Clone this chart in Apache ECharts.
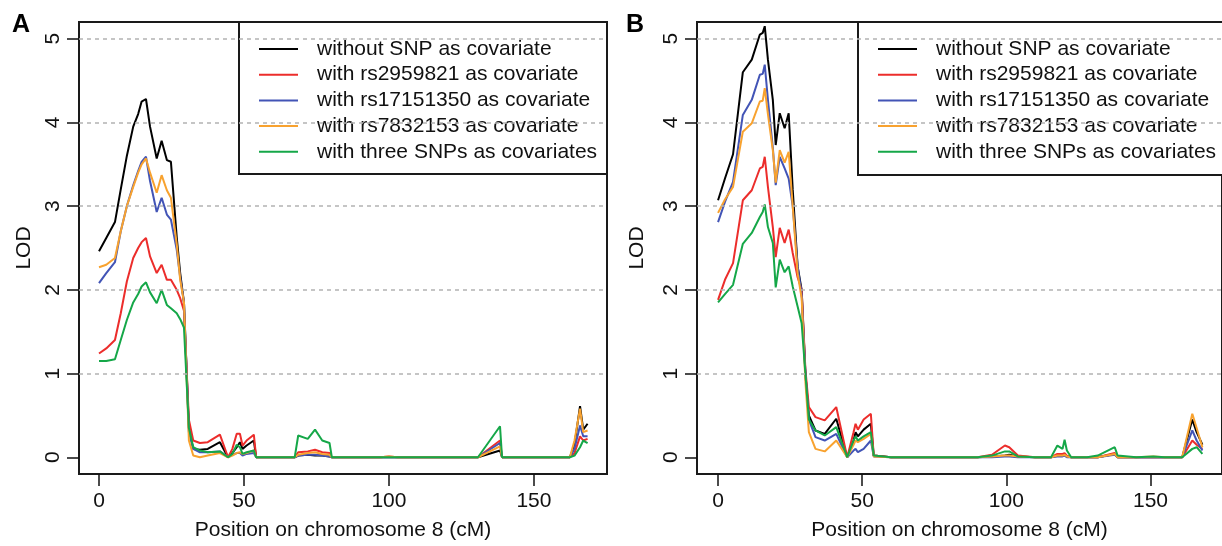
<!DOCTYPE html>
<html>
<head>
<meta charset="utf-8">
<script src="https://cdn.jsdelivr.net/npm/echarts@6/dist/echarts.min.js"></script>
<style>
html,body{margin:0;padding:0;background:#fff;}
#chart{width:1222px;height:546px;}
</style>
</head>
<body>
<div id="chart"></div>
<script>
// ---- data (positions in cM, LOD values) ----
const seriesNames = ['without SNP as covariate', 'with rs2959821 as covariate', 'with rs17151350 as covariate', 'with rs7832153 as covariate', 'with three SNPs as covariates'];
const xTicks = [0, 50, 100, 150];
const yTicks = [0, 1, 2, 3, 4, 5];
const gridVals = [1, 2, 3, 4, 5];

// Panel A
const posA = [0, 2.5, 5.5, 7.5, 9.6, 11.8, 13.5, 14.7, 16.2, 17.6, 19.9, 21.6, 23.4, 24.8, 26.8, 28, 29.3, 31, 32.5, 34.8, 37.5, 41.7, 44.5, 46, 47.5, 48.6, 49.5, 50.9, 53.4, 54.2, 60, 67.5, 68.7, 72, 74.5, 77, 79.5, 80.3, 90, 97, 100, 103, 110, 125, 130.7, 138.3, 139, 150, 162.4, 164, 165.9, 167, 168.5];
const aWithout = [2.46, 2.62, 2.81, 3.2, 3.6, 3.95, 4.1, 4.25, 4.28, 3.95, 3.57, 3.78, 3.55, 3.53, 2.63, 2.2, 1.85, 0.35, 0.1, 0.09, 0.1, 0.18, 0, 0.05, 0.12, 0.18, 0.1, 0.14, 0.2, 0, 0, 0, 0.02, 0.03, 0.02, 0.02, 0.01, 0, 0, 0, 0, 0, 0, 0, 0, 0.08, 0, 0, 0, 0.15, 0.61, 0.33, 0.4];
const aRs2959821 = [1.24, 1.3, 1.4, 1.72, 2.1, 2.38, 2.5, 2.57, 2.62, 2.4, 2.2, 2.3, 2.12, 2.12, 2.0, 1.9, 1.75, 0.45, 0.2, 0.17, 0.18, 0.27, 0, 0.1, 0.28, 0.28, 0.14, 0.2, 0.27, 0, 0, 0, 0.06, 0.07, 0.09, 0.06, 0.05, 0, 0, 0, 0.01, 0, 0, 0, 0, 0.2, 0, 0, 0, 0.05, 0.25, 0.2, 0.22];
const aRs17151350 = [2.08, 2.2, 2.33, 2.7, 3.0, 3.25, 3.42, 3.53, 3.59, 3.3, 2.93, 3.1, 2.9, 2.84, 2.48, 2.15, 1.85, 0.3, 0.1, 0.06, 0.06, 0.07, 0, 0.03, 0.05, 0.05, 0.02, 0.04, 0.05, 0, 0, 0, 0.02, 0.03, 0.03, 0.02, 0.01, 0, 0, 0, 0, 0, 0, 0, 0, 0.17, 0, 0, 0, 0.1, 0.38, 0.25, 0.25];
const aRs7832153 = [2.27, 2.3, 2.38, 2.7, 3.0, 3.23, 3.4, 3.5, 3.57, 3.4, 3.16, 3.37, 3.19, 3.1, 2.55, 2.12, 1.85, 0.2, 0.02, 0, 0.02, 0.05, 0, 0.02, 0.05, 0.06, 0.04, 0.05, 0.08, 0, 0, 0, 0.03, 0.05, 0.06, 0.04, 0.03, 0, 0, 0, 0.01, 0, 0, 0, 0, 0.13, 0, 0, 0, 0.2, 0.58, 0.3, 0.32];
const aThree = [1.15, 1.15, 1.17, 1.4, 1.64, 1.85, 1.95, 2.04, 2.09, 1.97, 1.84, 2.0, 1.82, 1.78, 1.72, 1.65, 1.55, 0.35, 0.12, 0.08, 0.06, 0.07, 0, 0.04, 0.15, 0.12, 0.04, 0.06, 0.08, 0, 0, 0, 0.26, 0.22, 0.33, 0.2, 0.17, 0, 0, 0, 0, 0, 0, 0, 0, 0.37, 0, 0, 0, 0.02, 0.12, 0.2, 0.17];

// Panel B
const posB = [0, 2.4, 5.2, 8.6, 11.7, 14.5, 15.5, 16.2, 17.3, 19, 20, 21.4, 23.1, 24.5, 25.9, 27.6, 29, 30.3, 31.5, 33.8, 37, 41, 44.8, 47, 47.7, 48.5, 50.5, 53, 54, 60, 90, 95, 99.5, 101, 104, 110, 115.5, 117.7, 119.5, 120.2, 121, 122.5, 128, 131.7, 137.6, 138.6, 145, 151, 155, 161, 164.5, 166, 168];
const bWithout = [3.07, 3.33, 3.62, 4.6, 4.75, 5.05, 5.07, 5.15, 4.75, 4.27, 3.73, 4.11, 3.93, 4.11, 3.2, 2.28, 2.0, 1.0, 0.5, 0.32, 0.28, 0.46, 0, 0.2, 0.3, 0.25, 0.33, 0.4, 0.02, 0, 0, 0.01, 0.02, 0.03, 0.01, 0, 0, 0.02, 0.02, 0.03, 0.01, 0, 0, 0, 0.04, 0, 0, 0, 0, 0, 0.45, 0.3, 0.15];
const bRs2959821 = [1.88, 2.12, 2.32, 3.07, 3.19, 3.45, 3.47, 3.59, 3.23, 2.75, 2.39, 2.74, 2.56, 2.72, 2.44, 2.15, 2.0, 1.05, 0.6, 0.48, 0.44, 0.6, 0, 0.3, 0.4, 0.33, 0.45, 0.52, 0.02, 0, 0, 0.03, 0.14, 0.12, 0.02, 0, 0, 0.04, 0.04, 0.05, 0.02, 0, 0, 0, 0.05, 0, 0, 0, 0, 0, 0.2, 0.15, 0.1];
const bRs17151350 = [2.81, 3.05, 3.29, 4.09, 4.27, 4.57, 4.58, 4.69, 4.27, 3.7, 3.25, 3.59, 3.45, 3.33, 3.0, 2.28, 1.95, 1.0, 0.45, 0.24, 0.2, 0.28, 0, 0.08, 0.1, 0.06, 0.1, 0.2, 0.01, 0, 0, 0, 0.01, 0.01, 0, 0, 0, 0.01, 0.01, 0.02, 0, 0, 0, 0, 0.03, 0, 0, 0, 0, 0, 0.32, 0.2, 0.08];
const bRs7832153 = [2.92, 3.08, 3.23, 3.89, 3.99, 4.25, 4.26, 4.41, 4.1, 3.67, 3.28, 3.67, 3.52, 3.65, 3.0, 2.2, 1.9, 0.9, 0.3, 0.1, 0.07, 0.2, 0, 0.15, 0.2, 0.18, 0.22, 0.28, 0.01, 0, 0, 0.01, 0.02, 0.02, 0.01, 0, 0, 0.02, 0.02, 0.03, 0.01, 0, 0, 0, 0.04, 0, 0, 0.01, 0, 0, 0.52, 0.35, 0.12];
const bThree = [1.85, 1.95, 2.06, 2.55, 2.68, 2.87, 2.93, 3.02, 2.75, 2.56, 2.03, 2.36, 2.21, 2.28, 2.04, 1.8, 1.6, 1.0, 0.45, 0.32, 0.26, 0.36, 0, 0.2, 0.25, 0.2, 0.25, 0.3, 0.02, 0, 0, 0.02, 0.07, 0.07, 0.01, 0, 0, 0.14, 0.1, 0.21, 0.08, 0, 0, 0.02, 0.12, 0.02, 0, 0.01, 0, 0, 0.1, 0.12, 0.04];

// ---- styling ----
const colors = ['#000000', '#EC2D2B', '#4254B6', '#F8A22F', '#15A748'];
const FONT = 'Liberation Sans, Arial, Helvetica, sans-serif';

const panelA = [aWithout, aRs2959821, aRs17151350, aRs7832153, aThree];
const panelB = [bWithout, bRs2959821, bRs17151350, bRs7832153, bThree];

function makeSeries(pos, vals, idx) {
  const out = [];
  out.push({
    type: 'line', name: 'grid' + idx, xAxisIndex: idx, yAxisIndex: idx, data: [], z: 1,
    silent: true,
    markLine: {
      silent: true, symbol: 'none', label: {show: false},
      lineStyle: {color: '#b3b3b3', type: [4, 4], width: 1.5},
      data: gridVals.map(v => ({yAxis: v}))
    }
  });
  vals.forEach((arr, k) => {
    out.push({
      type: 'line', name: seriesNames[k], xAxisIndex: idx, yAxisIndex: idx,
      data: pos.map((x, i) => [x, arr[i]]),
      symbol: 'none', showSymbol: false, z: 2,
      lineStyle: {color: colors[k], width: 2},
      itemStyle: {color: colors[k]}
    });
  });
  return out;
}

function xAxis(idx, min, max) {
  return {
    type: 'value', gridIndex: idx, min: min, max: max, position: 'bottom',
    name: 'Position on chromosome 8 (cM)', nameLocation: 'middle', nameGap: 56,
    nameTextStyle: {fontFamily: FONT, fontSize: 21, color: '#111', verticalAlign: 'middle'},
    axisLine: {show: false, onZero: false},
    axisTick: {show: true, inside: false, length: 12, customValues: xTicks, lineStyle: {color: '#111', width: 1.5}},
    axisLabel: {show: true, customValues: xTicks, margin: 17, fontFamily: FONT, fontSize: 21, color: '#111'},
    splitLine: {show: false}
  };
}
function yAxis(idx, gap) {
  return {
    type: 'value', gridIndex: idx, min: -0.2, max: 5.2, position: 'left',
    name: 'LOD', nameLocation: 'middle', nameGap: gap,
    nameTextStyle: {fontFamily: FONT, fontSize: 21, color: '#111', verticalAlign: 'middle'},
    axisLine: {show: false, onZero: false},
    axisTick: {show: true, inside: false, length: 12, customValues: yTicks, lineStyle: {color: '#111', width: 1.5}},
    axisLabel: {show: true, customValues: yTicks, rotate: 90, margin: 15, fontFamily: FONT, fontSize: 21, color: '#111'},
    splitLine: {show: false}
  };
}
function legend(left) {
  return {
    orient: 'vertical', left: left, top: 38.5, padding: 0,
    itemWidth: 39, itemHeight: 21, itemGap: 4.7, selectedMode: false,
    data: seriesNames, z: 5,
    itemStyle: {opacity: 0},
    textStyle: {fontFamily: FONT, fontSize: 21, lineHeight: 21, color: '#111', padding: [0, 0, 0, 14]},
    lineStyle: {width: 2}
  };
}

const option = {
  animation: false,
  backgroundColor: '#ffffff',
  grid: [
    {left: 79, top: 22, width: 528, height: 452, show: true, borderColor: '#1a1a1a', borderWidth: 2, backgroundColor: 'transparent', containLabel: false},
    {left: 697, top: 22, width: 528, height: 452, show: true, borderColor: '#1a1a1a', borderWidth: 2, backgroundColor: 'transparent', containLabel: false}
  ],
  xAxis: [xAxis(0, -6.9, 175.2), xAxis(1, -7.3, 174.8)],
  yAxis: [yAxis(0, 55), yAxis(1, 60)],
  legend: [legend(258), legend(877)],
  graphic: [
    {type: 'rect', z: 3, shape: {x: 239, y: 22, width: 368, height: 152}, style: {fill: '#fff', stroke: '#1a1a1a', lineWidth: 2}},
    {type: 'rect', z: 3, shape: {x: 858, y: 22, width: 400, height: 153}, style: {fill: '#fff', stroke: '#1a1a1a', lineWidth: 2}},
    {type: 'text', z: 5, x: 12, y: 13, style: {text: 'A', font: 'bold 25px ' + FONT, fill: '#000', textVerticalAlign: 'top'}},
    {type: 'text', z: 5, x: 626, y: 13, style: {text: 'B', font: 'bold 25px ' + FONT, fill: '#000', textVerticalAlign: 'top'}}
  ],
  series: [].concat(makeSeries(posA, panelA, 0), makeSeries(posB, panelB, 1))
};

const chart = echarts.init(document.getElementById('chart'), null, {renderer: 'canvas'});
chart.setOption(option);
</script>
</body>
</html>
